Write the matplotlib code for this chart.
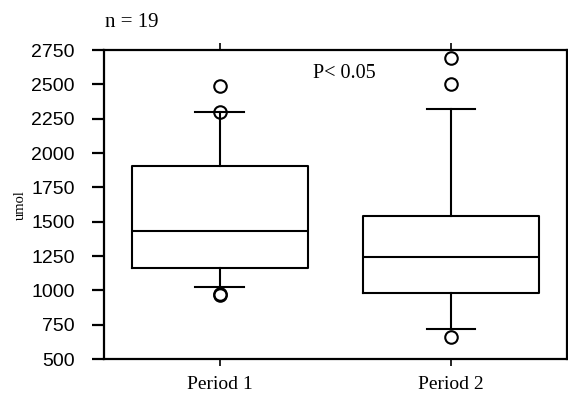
import matplotlib
matplotlib.use("Agg")
import matplotlib.pyplot as plt

# box summary values (umol)
labels = ["Period 1", "Period 2"]
q1 = [1165, 978]
med = [1432, 1245]
q3 = [1905, 1544]
whislo = [1027, 716]
whishi = [2296, 2323]
fliers = [[2488, 2300, 966, 976], [2690, 2507, 658]]

stats = []
for i in range(len(labels)):
    stats.append(dict(label=labels[i], q1=q1[i], med=med[i], q3=q3[i],
                      whislo=whislo[i], whishi=whishi[i], fliers=fliers[i]))

fig = plt.figure(figsize=(5.68, 3.95), dpi=100)
ax = fig.add_axes([0.183, 0.091, 0.815, 0.782])

lw = 1.5
ax.bxp(stats, positions=[1, 2], widths=0.76, capwidths=0.21,
       boxprops=dict(color="black", linewidth=lw),
       whiskerprops=dict(color="black", linewidth=lw),
       capprops=dict(color="black", linewidth=lw),
       medianprops=dict(color="black", linewidth=lw),
       flierprops=dict(marker="o", markersize=9, markerfacecolor="none",
                       markeredgecolor="black", markeredgewidth=1.5))

ax.set_xlim(0.5, 2.5)
ax.set_ylim(500, 2750)
ax.set_yticks(range(500, 2751, 250))
ax.set_xticks([1, 2])
ax.set_xticklabels(labels, family="Liberation Serif", fontsize=14)
for lab in ax.get_yticklabels():
    lab.set_family("Liberation Sans")
    lab.set_fontsize(14)

for s in ax.spines.values():
    s.set_linewidth(1.6)
ax.tick_params(axis="y", direction="out", length=9, width=1.6, pad=12)
ax.tick_params(axis="x", direction="out", length=5, width=1.2, pad=7, top=True)

ax.set_ylabel("umol", family="Liberation Serif", fontsize=10.5, labelpad=3)
ax.text(1.54, 2583, "P< 0.05", family="Liberation Serif", fontsize=14.5,
        ha="center", va="center")
fig.text(0.185, 0.944, "n = 19", family="Liberation Serif", fontsize=15,
         ha="left", va="center")

fig.savefig("out.png", dpi=100)
